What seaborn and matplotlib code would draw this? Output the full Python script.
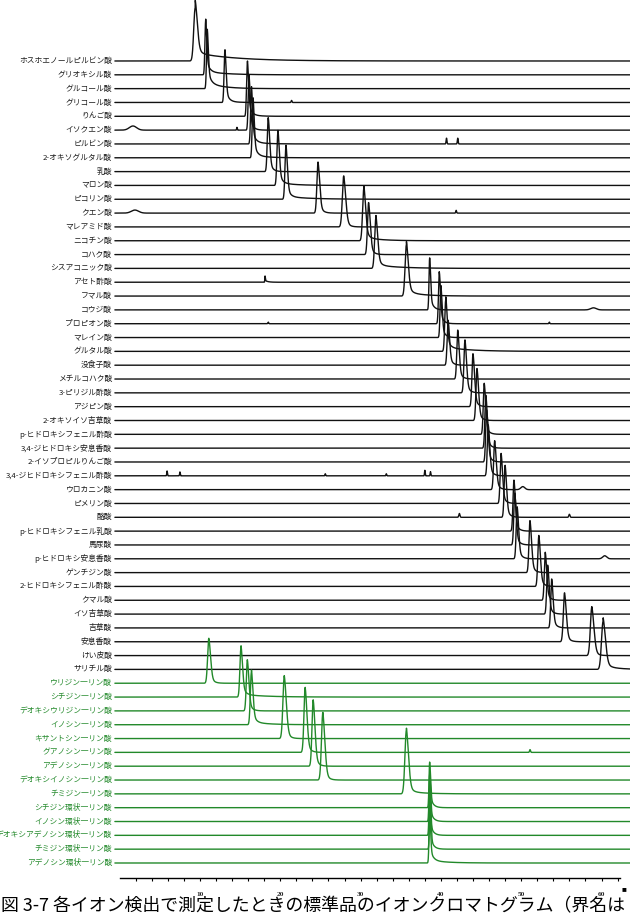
import numpy as np
import pandas as pd
import matplotlib
matplotlib.use("Agg")
import matplotlib.pyplot as plt
import seaborn as sns
from matplotlib.ticker import FixedLocator
from matplotlib.transforms import blended_transform_factory

# ---------------- data ----------------
names_black = [
    "ホスホエノールピルビン酸", "グリオキシル酸", "グルコール酸", "グリコール酸", "りんご酸",
    "イソクエン酸", "ピルビン酸", "2-オキソグルタル酸", "乳酸", "マロン酸",
    "ピコリン酸", "クエン酸", "マレアミド酸", "ニコチン酸", "コハク酸",
    "シスアコニック酸", "アセト酢酸", "フマル酸", "コウジ酸", "プロピオン酸",
    "マレイン酸", "グルタル酸", "没食子酸", "メチルコハク酸", "3-ピリジル酢酸",
    "アジピン酸", "2-オキソイソ吉草酸", "p-ヒドロキシフェニル酢酸", "3,4-ジヒドロキシ安息香酸", "2-イソプロピルりんご酸",
    "3,4-ジヒドロキシフェニル酢酸", "ウロカニン酸", "ピメリン酸", "酪酸", "p-ヒドロキシフェニル乳酸",
    "馬尿酸", "p-ヒドロキシ安息香酸", "ゲンチジン酸", "2-ヒドロキシフェニル酢酸", "クマル酸",
    "イソ吉草酸", "吉草酸", "安息香酸", "けい皮酸", "サリチル酸",
]
names_green = [
    "ウリジン一リン酸", "シチジン一リン酸", "デオキシウリジン一リン酸", "イノシン一リン酸",
    "キサントシン一リン酸", "グアノシン一リン酸", "アデノシン一リン酸", "デオキシイノシン一リン酸",
    "チミジン一リン酸", "シチジン環状一リン酸", "イノシン環状一リン酸", "デオキシアデノシン環状一リン酸",
    "チミジン環状一リン酸", "アデノシン環状一リン酸",
]

# retention time (min)
rt_black = [9.4, 10.7, 10.9, 13.1, 15.9, 16.1, 16.4, 16.6, 18.5, 19.7,
            20.7, 24.7, 27.9, 30.4, 31.0, 31.9, 18.1, 35.7, 38.6, 39.8,
            40.0, 40.6, 40.9, 42.1, 43.0, 44.0, 44.5, 45.4, 45.6, 45.7,
            45.9, 46.7, 47.5, 48.0, 49.1, 49.2, 49.5, 51.1, 52.2, 53.0,
            53.3, 53.8, 55.4, 58.8, 60.2]
rt_green = [11.1, 15.1, 15.9, 16.4, 20.5, 23.1, 24.1, 25.3, 35.7, 38.6, 38.6, 38.6, 38.65, 38.6]

# peak height (relative, one unit = trace spacing)
ht_black = [3.83, 3.83, 3.90, 3.76, 3.90, 3.98, 4.05, 4.19, 3.90, 3.83,
            3.76, 3.69, 3.69, 3.76, 3.76, 3.62, 0.45, 3.69, 3.76, 3.76,
            3.76, 3.69, 3.25, 3.54, 3.83, 3.83, 3.76, 3.69, 3.83, 3.76,
            3.69, 3.54, 3.62, 3.76, 3.69, 3.76, 3.76, 3.76, 3.69, 3.47,
            3.54, 3.54, 3.54, 3.54, 3.47]
ht_green = [3.25, 3.55, 3.70, 3.80, 4.55, 4.70, 4.80, 4.90, 4.60, 3.30, 3.40, 3.40, 3.40, 3.40]

# peak width (sigma, min)
wd_black = [0.18, 0.09, 0.09, 0.10, 0.10, 0.10, 0.10, 0.10, 0.12, 0.12,
            0.12, 0.14, 0.17, 0.15, 0.14, 0.15, 0.03, 0.16, 0.08, 0.10,
            0.10, 0.12, 0.12, 0.12, 0.13, 0.13, 0.13, 0.12, 0.12, 0.12,
            0.12, 0.13, 0.12, 0.12, 0.12, 0.12, 0.12, 0.13, 0.13, 0.12,
            0.12, 0.12, 0.15, 0.18, 0.20]
wd_green = [0.15, 0.13, 0.13, 0.13, 0.17, 0.15, 0.15, 0.17, 0.18, 0.08, 0.08, 0.08, 0.08, 0.08]

# slow tailing after peak: (trace number, amplitude, decay min)
slow_tails = [(1, 0.60, 5.0), (2, 0.25, 2.5), (3, 0.45, 1.8), (4, 0.10, 1.0), (5, 0.15, 1.0),
              (7, 0.15, 1.5), (8, 0.20, 1.5), (10, 0.20, 2.0), (11, 0.20, 3.0), (14, 0.25, 2.0),
              (16, 0.25, 3.0), (18, 0.30, 2.0), (22, 0.30, 3.0), (45, 0.30, 1.5), (47, 0.20, 3.0),
              (49, 0.20, 2.0), (54, 0.20, 2.0), (59, 0.20, 2.0)]

# small extra peaks / spikes: (trace number, time, height, width)
minor_peaks = [(6, 1.65, 0.30, 0.45), (6, 14.6, 0.20, 0.04), (12, 1.9, 0.22, 0.45), (12, 41.9, 0.20, 0.05),
               (4, 21.4, 0.15, 0.05), (7, 40.7, 0.42, 0.05), (7, 42.1, 0.42, 0.05),
               (31, 5.9, 0.35, 0.04), (31, 7.5, 0.28, 0.04), (31, 25.6, 0.15, 0.04), (31, 33.2, 0.15, 0.04),
               (31, 38.0, 0.40, 0.04), (31, 38.7, 0.30, 0.04), (34, 42.3, 0.28, 0.07), (34, 56.0, 0.22, 0.07),
               (32, 50.2, 0.22, 0.25), (37, 60.4, 0.22, 0.25), (19, 59.0, 0.15, 0.35),
               (20, 18.5, 0.12, 0.05), (20, 53.5, 0.12, 0.05), (51, 51.1, 0.20, 0.06)]

tick_values = [10, 20, 30, 40, 50, 60]
caption = "図 3-7 各イオン検出で測定したときの標準品のイオンクロマトグラム（界名は"

# ---------------- build traces ----------------
names = names_black + names_green
rts = rt_black + rt_green
hts = ht_black + ht_green
wds = wd_black + wd_green
n = len(names)
black = "#111111"
green = "#22892a"
colors = [black] * len(names_black) + [green] * len(names_green)

t = np.arange(-0.6, 63.6, 0.0125)

def peak(tt, rt, h, s, a=0.3, tau=0.35):
    d = tt - rt
    left = np.exp(-0.5 * (d / s) ** 2)
    right = (1 - a) * np.exp(-0.5 * (d / (1.5 * s)) ** 2) + a * np.exp(-np.clip(d, 0, None) / tau)
    return h * np.where(d < 0, left, right)

slow_map = {k: (a, b) for k, a, b in slow_tails}
frames = []
for i in range(n):
    base = (n - 1) - i
    y = peak(t, rts[i], hts[i], wds[i])
    if (i + 1) in slow_map:
        amp, tau = slow_map[i + 1]
        d = t - rts[i]
        y = y + np.where(d > 0, amp * np.exp(-np.clip(d, 0, None) / tau), 0.0)
    for k, tm, hh, ss in minor_peaks:
        if k == i + 1:
            y = y + hh * np.exp(-0.5 * ((t - tm) / ss) ** 2)
    frames.append(pd.DataFrame({"t": t, "y": base + y, "trace": i}))
df = pd.concat(frames, ignore_index=True)

# ---------------- plot ----------------
sns.set_theme(style="white")
plt.rcParams["font.family"] = ["Noto Sans CJK JP", "DejaVu Sans"]

W, H = 633, 918
fig = plt.figure(figsize=(W / 100, H / 100), dpi=100)
ax_left, ax_right, ax_bot, ax_top = 113, 630, 878, 0
ax = fig.add_axes([ax_left / W, (H - ax_bot) / H, (ax_right - ax_left) / W, (ax_bot - ax_top) / H])

palette = {i: colors[i] for i in range(n)}
sns.lineplot(data=df, x="t", y="y", hue="trace", palette=palette, estimator=None,
             sort=False, legend=False, linewidth=1.0, ax=ax)

px_per_min = 8.03
t0_px = 119.7
ax.set_xlim((ax_left - t0_px) / px_per_min, (ax_right - t0_px) / px_per_min)
spacing = 13.83
top_base_px, bot_base_px = 61, 863
ax.set_ylim(-(ax_bot - bot_base_px) / spacing, (n - 1) + (top_base_px - ax_top) / spacing)

for side in ["left", "top", "right"]:
    ax.spines[side].set_visible(False)
ax.spines["bottom"].set_bounds(0, 62.3)
ax.spines["bottom"].set_color("black")
ax.spines["bottom"].set_linewidth(1.0)
ax.set_yticks([])
ax.set_xlabel("")
ax.set_ylabel("")
ax.xaxis.set_major_locator(FixedLocator(tick_values))
ax.xaxis.set_minor_locator(FixedLocator([v for v in range(2, 63, 2) if v % 10 != 0]))
ax.tick_params(axis="x", which="both", direction="out", length=2.5, width=0.8, color="black",
               bottom=True, pad=7.5)
ax.set_xticklabels([str(v) for v in tick_values], fontsize=5.3, fontweight="bold",
                   family=["Liberation Serif", "DejaVu Serif"])

trans = blended_transform_factory(ax.transData, ax.transAxes)
ax.text(62.5, -12 / (ax_bot - ax_top), "■", transform=trans, fontsize=3.5, ha="left",
        va="center", color="black", clip_on=False)

label_x = (112 - t0_px) / px_per_min
for i in range(n):
    ax.text(label_x, (n - 1) - i, names[i], ha="right", va="center", fontsize=5.6,
            color=("#1a1a1a" if colors[i] == black else green), clip_on=False)

fig.text(0.002, 3 / H, caption, fontsize=12.9, ha="left", va="bottom", color="black")

fig.savefig("out.png", dpi=100)
